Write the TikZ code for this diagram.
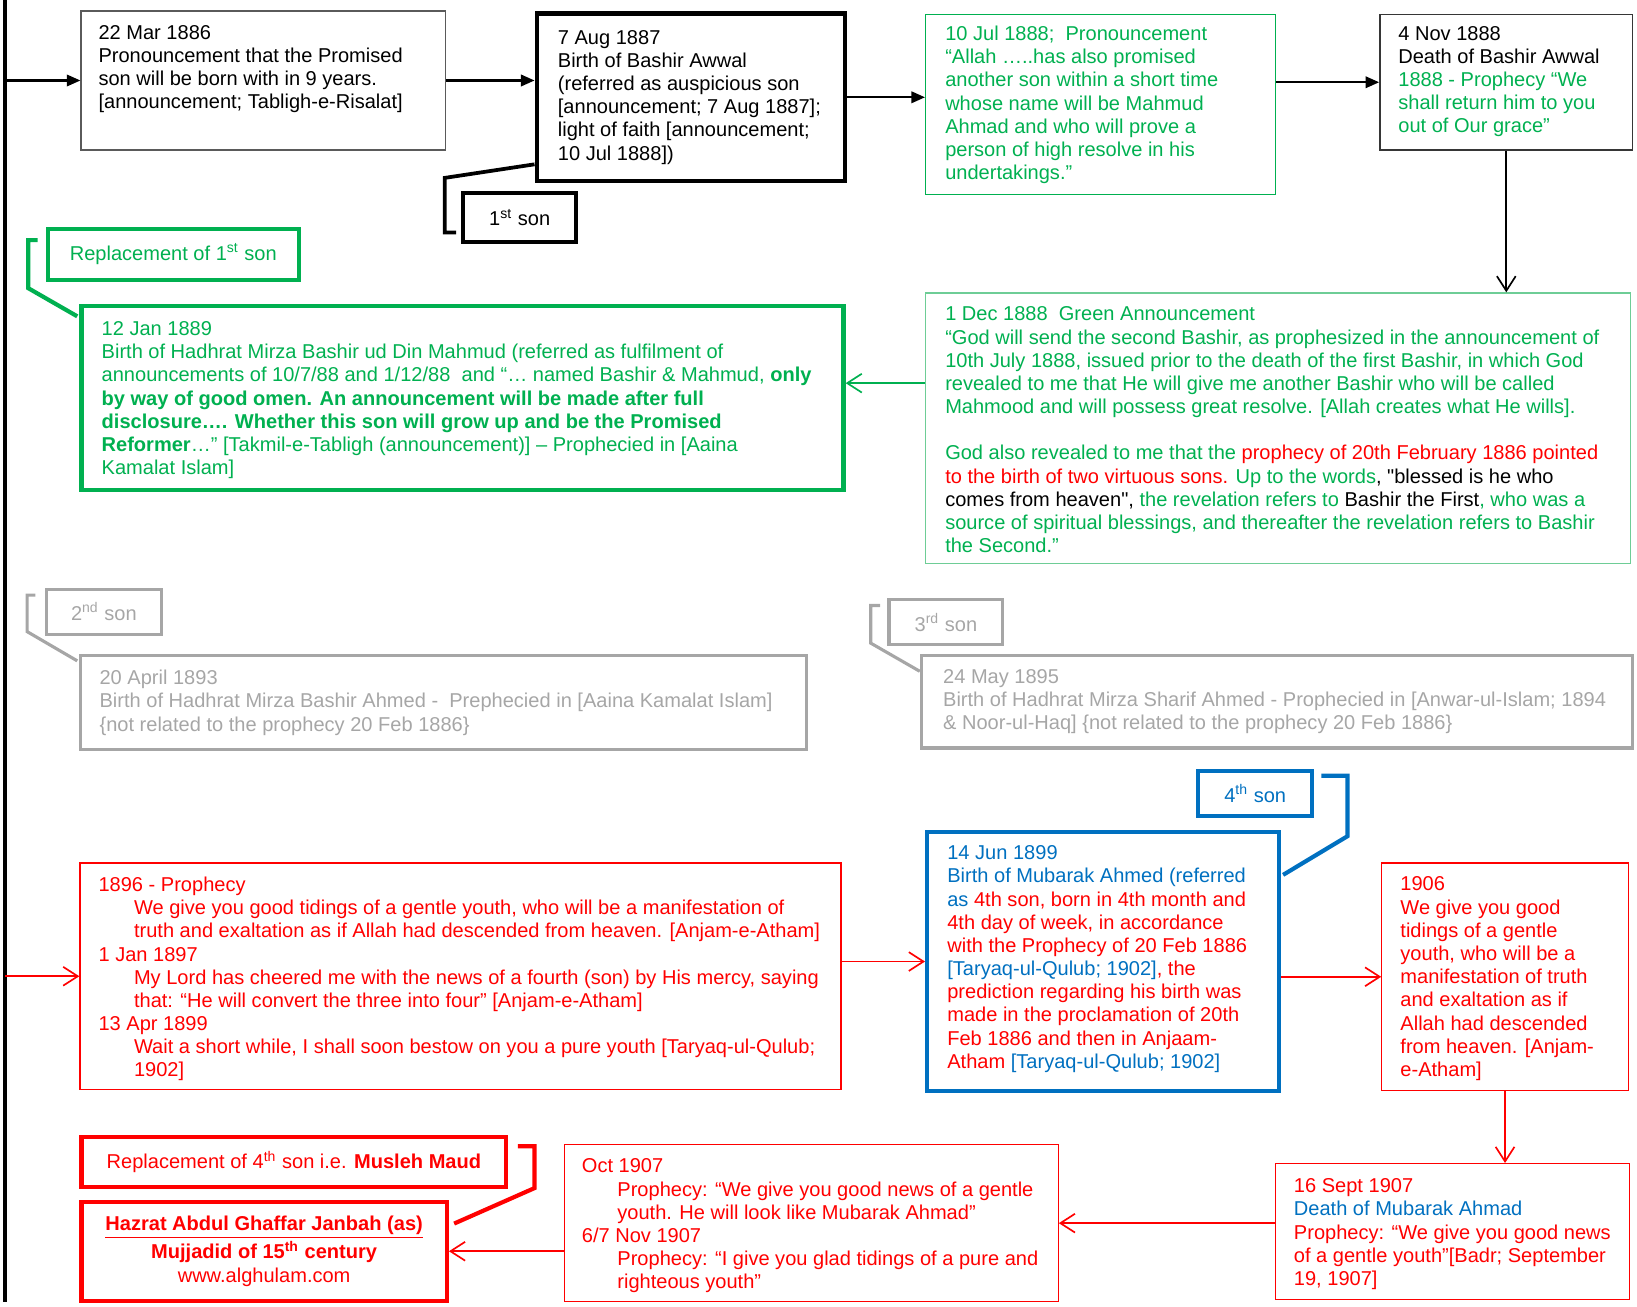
\documentclass[tikz,border=0pt]{standalone}
\usepackage{fontspec}
\setmainfont{Liberation Sans}
\newfontfamily\plainq{Liberation Sans}
\usepackage{xcolor}
\definecolor{xlgreen}{RGB}{0,176,80}
\definecolor{xllgreen}{RGB}{110,205,150}
\definecolor{xlred}{RGB}{255,0,0}
\definecolor{xlblue}{RGB}{0,112,192}
\definecolor{xlgray}{RGB}{166,166,166}
\definecolor{xldark}{RGB}{90,90,90}
\usetikzlibrary{arrows.meta, calc}
\newcommand{\ind}{\hspace*{17pt}}
\newcommand{\sq}{{\plainq"}}

\begin{document}
\begin{tikzpicture}[
    x=0.5pt, y=-0.5pt,
    every node/.style={font=\fontsize{9.6}{11.1}\selectfont},
    datebox/.style={rectangle, anchor=north west, inner sep=0pt},
    datetxt/.style={anchor=north west, inner sep=0pt, align=left, yshift=-1.8pt,
                    execute at begin node=\strut},
    sonbox/.style={rectangle, anchor=north west, inner sep=2pt, align=center},
    pointer/.style={line join=miter},
    blackarrow/.style={draw=black, line width=1pt,
                       -{Triangle[length=6.5pt, width=5.5pt]}},
    openarrow/.style={line width=0.8pt,
                      -{Straight Barb[length=7pt, width=9pt]}},
]
\useasboundingbox (0,0) rectangle (1568,1251);

% ---- Time line bar ----
\coordinate (bartop) at (5,0);
\coordinate (barbot) at (5,1247);
\draw[line width=2pt] (bartop) -- (barbot);

% ---- Row 1 ----
\node[datebox, draw=xldark, line width=0.6pt, minimum width=174.5pt, minimum height=66.5pt]
      (mar86) at (77,10) {};
\node[datetxt] (mar86txt) at (94,20)
      {22 Mar 1886\\Pronouncement that the Promised\\son will be born with in 9 years.\\{[}announcement; Tabligh-e-Risalat]};

\node[datebox, draw=black, line width=2.2pt, minimum width=147.5pt, minimum height=80pt]
      (aug87) at (512,11) {};
\node[datetxt] (aug87txt) at (534,25)
      {7 Aug 1887\\Birth of Bashir Awwal\\(referred as auspicious son\\{[}announcement; 7 Aug 1887];\\light of faith [announcement;\\10 Jul 1888])};

\node[sonbox, draw=black, line width=1.8pt, minimum width=54pt, minimum height=23.5pt]
      (son1) at (442,183) {1\textsuperscript{st} son};

\node[datebox, draw=xlgreen, line width=0.6pt, minimum width=167.5pt, minimum height=86.5pt]
      (jul88) at (886,13) {};
\node[datetxt, text=xlgreen] (jul88txt) at (905,21)
      {10 Jul 1888;~~Pronouncement\\“Allah …..has also promised\\another son within a short time\\whose name will be Mahmud\\Ahmad and who will prove a\\person of high resolve in his\\undertakings.”};

\node[datebox, draw=xldark!60!black, line width=0.8pt, minimum width=121pt, minimum height=65pt]
      (nov88) at (1321,13) {};
\node[datetxt] (nov88txt) at (1339,21)
      {4 Nov 1888\\Death of Bashir Awwal\\\textcolor{xlgreen}{1888 - Prophecy “We}\\\textcolor{xlgreen}{shall return him to you}\\\textcolor{xlgreen}{out of Our grace”}};

% ---- Row 2 ----
\node[sonbox, draw=xlgreen, line width=2pt, text=xlgreen, minimum width=120pt, minimum height=24.5pt]
      (rep1) at (44,217) {Replacement of 1\textsuperscript{st} son};

\node[datebox, draw=xlgreen, line width=2pt, minimum width=365pt, minimum height=88pt]
      (jan89) at (76,291) {};
\node[datetxt, text=xlgreen] (jan89txt) at (97,304)
      {12 Jan 1889\\Birth of Hadhrat Mirza Bashir ud Din Mahmud (referred as fulfilment of\\announcements of 10/7/88 and 1/12/88~ and “… named Bashir \& Mahmud, \textbf{only}\\\textbf{by way of good omen. An announcement will be made after full}\\\textbf{disclosure…. Whether this son will grow up and be the Promised}\\\textbf{Reformer}…” [Takmil-e-Tabligh (announcement)] – Prophecied in [Aaina\\Kamalat Islam]};

\node[datebox, draw=xllgreen, line width=0.6pt, minimum width=337.5pt, minimum height=129.5pt]
      (dec88) at (886,280) {};
\node[datetxt, text=xlgreen] (dec88txt) at (905,290)
      {1 Dec 1888~~Green Announcement\\“God will send the second Bashir, as prophesized in the announcement of\\10th July 1888, issued prior to the death of the first Bashir, in which God\\revealed to me that He will give me another Bashir who will be called\\Mahmood and will possess great resolve. [Allah creates what He wills].\\[11.1pt]God also revealed to me that the \textcolor{xlred}{prophecy of 20th February 1886 pointed}\\\textcolor{xlred}{to the birth of two virtuous sons.} Up to the words\textcolor{black}{, \sq blessed is he who}\\\textcolor{black}{comes from heaven\sq,} the revelation refers to \textcolor{black}{Bashir the First}, who was a\\source of spiritual blessings, and thereafter the revelation refers to Bashir\\the Second.”};

% ---- Row 3 (grey) ----
\node[sonbox, draw=xlgray, line width=1.5pt, text=xlgray, minimum width=55pt, minimum height=21.5pt]
      (son2) at (43,563) {2\textsuperscript{nd} son};
\node[datebox, draw=xlgray, line width=1.5pt, minimum width=347.5pt, minimum height=45pt]
      (apr93) at (76,626) {};
\node[datetxt, text=xlgray] (apr93txt) at (95,638)
      {20 April 1893\\Birth of Hadhrat Mirza Bashir Ahmed -~ Prephecied in [Aaina Kamalat Islam]\\\{not related to the prophecy 20 Feb 1886\}};

\node[sonbox, draw=xlgray, line width=1.5pt, text=xlgray, minimum width=54.5pt, minimum height=21.5pt]
      (son3) at (850,573) {3\textsuperscript{rd} son};
\node[datebox, draw=xlgray, line width=1.5pt, minimum width=340.5pt, minimum height=44.5pt]
      (may95) at (881,626) {};
\node[datetxt, text=xlgray] (may95txt) at (903,637)
      {24 May 1895\\Birth of Hadhrat Mirza Sharif Ahmed - Prophecied in [Anwar-ul-Islam; 1894\\\& Noor-ul-Haq] \{not related to the prophecy 20 Feb 1886\}};

% ---- Row 4 ----
\node[datebox, draw=xlred, line width=0.6pt, minimum width=364.5pt, minimum height=108.5pt]
      (prop96) at (76,826) {};
\node[datetxt, text=xlred] (prop96txt) at (94,836)
      {1896 - Prophecy\\\ind We give you good tidings of a gentle youth, who will be a manifestation of\\\ind truth and exaltation as if Allah had descended from heaven. [Anjam-e-Atham]\\1 Jan 1897\\\ind My Lord has cheered me with the news of a fourth (son) by His mercy, saying\\\ind that: “He will convert the three into four” [Anjam-e-Atham]\\13 Apr 1899\\\ind Wait a short while, I shall soon bestow on you a pure youth [Taryaq-ul-Qulub;\\\ind 1902]};

\node[sonbox, draw=xlblue, line width=1.8pt, text=xlblue, minimum width=54.5pt, minimum height=21.5pt]
      (son4) at (1146,737) {4\textsuperscript{th} son};
\node[datebox, draw=xlblue, line width=2pt, minimum width=168.5pt, minimum height=124pt]
      (jun99) at (886,795) {};
\node[datetxt, text=xlblue] (jun99txt) at (907,806)
      {14 Jun 1899\\Birth of Mubarak Ahmed (referred\\as \textcolor{xlred}{4th son, born in 4th month and}\\\textcolor{xlred}{4th day of week, in accordance}\\\textcolor{xlred}{with the Prophecy of 20 Feb 1886}\\{[}Taryaq-ul-Qulub; 1902]\textcolor{xlred}{, the}\\\textcolor{xlred}{prediction regarding his birth was}\\\textcolor{xlred}{made in the proclamation of 20th}\\\textcolor{xlred}{Feb 1886 and then in Anjaam-}\\\textcolor{xlred}{Atham} [Taryaq-ul-Qulub; 1902]};

\node[datebox, draw=xlred, line width=0.6pt, minimum width=118pt, minimum height=109pt]
      (y1906) at (1323,826) {};
\node[datetxt, text=xlred] (y1906txt) at (1341,836)
      {1906\\We give you good\\tidings of a gentle\\youth, who will be a\\manifestation of truth\\and exaltation as if\\Allah had descended\\from heaven. [Anjam-\\e-Atham]};

% ---- Row 5 ----
\node[sonbox, draw=xlred, line width=2pt, text=xlred, minimum width=203.5pt, minimum height=24pt]
      (rep4) at (76,1087) {Replacement of 4\textsuperscript{th} son i.e. \textbf{Musleh Maud}};
\node[sonbox, draw=xlred, line width=2pt, text=xlred, minimum width=175pt, minimum height=47.5pt]
      (ghaffar) at (76,1149)
      {\textbf{\underline{Hazrat Abdul Ghaffar Janbah (as)}}\\\textbf{Mujjadid of 15\textsuperscript{th} century}\\www.alghulam.com};

\node[datebox, draw=xlred, line width=0.6pt, minimum width=236.5pt, minimum height=75pt]
      (oct07) at (540,1096) {};
\node[datetxt, text=xlred] (oct07txt) at (557,1106)
      {Oct 1907\\\ind Prophecy: “We give you good news of a gentle\\\ind youth. He will look like Mubarak Ahmad”\\6/7 Nov 1907\\\ind Prophecy: “I give you glad tidings of a pure and\\\ind righteous youth”};

\node[datebox, draw=xlred, line width=0.6pt, minimum width=169.5pt, minimum height=65pt]
      (sep07) at (1221,1114) {};
\node[datetxt, text=xlred] (sep07txt) at (1239,1125)
      {16 Sept 1907\\\textcolor{xlblue}{Death of Mubarak Ahmad}\\Prophecy: “We give you good news\\of a gentle youth”[Badr; September\\19, 1907]};

% ---- Callout pointers ----
\draw[pointer, line width=1.8pt] ($(aug87.south west)+(0,-18)$) -- ++(-86,13)
      |- ($(son1.south west)+(-5,-11)$);
\draw[pointer, draw=xlgreen, line width=2pt] ($(rep1.north west)+(-8,13)$) -- ++(-9,0)
      -- ++(0,46) -- ($(jan89.north west)+(-2,12)$);
\draw[pointer, draw=xlgray, line width=1.5pt] ($(son2.north west)+(-9,7)$) -- ++(-8,0)
      -- ++(0,35) -- ($(apr93.north west)+(-2,7)$);
\draw[pointer, draw=xlgray, line width=1.5pt] ($(son3.north west)+(-7,7)$) -- ++(-9,0)
      -- ++(0,36) -- ($(may95.north west)+(0,17)$);
\draw[pointer, draw=xlblue, line width=2pt] ($(son4.north east)+(7,6)$) -- ++(25,0)
      -- ++(0,58) -- ($(jun99.north east)+(2,43)$);
\draw[pointer, draw=xlred, line width=2pt] ($(rep4.north east)+(9,11)$) -- ++(16,0)
      -- ++(0,40) -- ($(ghaffar.north east)+(5,23)$);

% ---- Arrows ----
\draw[blackarrow] (bartop |- mar86.west) -- (mar86.west);
\draw[blackarrow] (mar86.east) -- (mar86.east -| aug87.west);
\draw[blackarrow] (aug87.east) -- (aug87.east -| jul88.west);
\draw[blackarrow] (nov88.west -| jul88.east) -- (nov88.west);
\draw[openarrow] (nov88.south) -- (nov88.south |- dec88.north);
\coordinate (e2f) at ($(dec88.north west)+(0,87)$);
\draw[openarrow, draw=xlgreen] (e2f) -- (e2f -| jan89.east);

\draw[openarrow, draw=xlred] (bartop |- prop96.west) -- (prop96.west);
\draw[openarrow, draw=xlred] (jun99.west -| prop96.east) -- (jun99.west);
\draw[openarrow, draw=xlred] (y1906.west -| jun99.east) -- (y1906.west);
\draw[openarrow, draw=xlred] (y1906.south) -- (y1906.south |- sep07.north);
\draw[openarrow, draw=xlred] (oct07.east -| sep07.west) -- (oct07.east);
\draw[openarrow, draw=xlred] (ghaffar.east -| oct07.west) -- (ghaffar.east);

\end{tikzpicture}
\end{document}
